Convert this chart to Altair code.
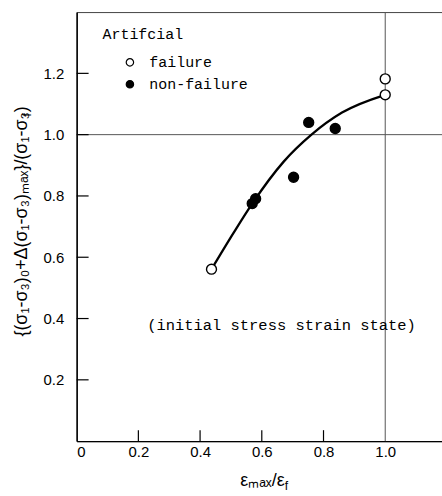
import altair as alt
import pandas as pd

# ---- data ----
fail_x = [0.437, 1.0, 1.0]
fail_y = [0.561, 1.13, 1.182]
nonfail_x = [0.569, 0.58, 0.703, 0.752, 0.838]
nonfail_y = [0.775, 0.791, 0.861, 1.04, 1.02]
curve_x = [0.437, 0.51, 0.569, 0.671, 0.761, 0.86, 1.0]
curve_y = [0.561, 0.682, 0.775, 0.912, 1.0, 1.072, 1.13]
x_label_vals = [0, 0.2, 0.4, 0.6, 0.8, 1.0]
y_label_vals = [0.2, 0.4, 0.6, 0.8, 1.0, 1.2]
x_inner_ticks = [0.2, 0.4, 0.6, 0.8]
y_inner_ticks = [0.2, 0.4, 0.6, 0.8, 1.0, 1.2]
ref_x = [1.0]
ref_y = [1.0]
status_names = ["failure", "non-failure"]
legend_title = "Artifcial"
note_text = ["(initial stress strain state)"]
note_x = [0.229]
note_y = [0.38]
y_title_main = "{(σ₁-σ₃)₀+Δ(σ₁-σ₃)ₘₐₓ}/(σ₁-σ₃)"
y_title_sub = "f"
x_title_main = "εₘₐₓ/ε"
x_title_sub = "f"

# ---- layout ----
W, H = 367, 431
X_DOMAIN = [0, 1.184]
Y_DOMAIN = [0, 1.4]

points = pd.DataFrame({
    "x": fail_x + nonfail_x,
    "y": fail_y + nonfail_y,
    "status": [status_names[0]] * len(fail_x) + [status_names[1]] * len(nonfail_x),
})
curve = pd.DataFrame({"x": curve_x, "y": curve_y})


def xenc(field="x"):
    return alt.X(
        f"{field}:Q",
        scale=alt.Scale(domain=X_DOMAIN, nice=False, zero=False),
        axis=alt.Axis(
            values=x_label_vals,
            labelExpr="datum.value == 0 ? '0' : format(datum.value, '.1f')",
            title=None,
            labelPadding=3,
        ),
    )


def yenc(field="y"):
    return alt.Y(
        f"{field}:Q",
        scale=alt.Scale(domain=Y_DOMAIN, nice=False, zero=False),
        axis=alt.Axis(values=y_label_vals, format=".1f", title=None, labelPadding=13),
    )


curve_layer = alt.Chart(curve).mark_line(
    color="black", strokeWidth=2.3, interpolate="monotone"
).encode(x=xenc(), y=yenc())

points_layer = alt.Chart(points).mark_point(
    filled=True, shape="circle", size=100, stroke="black", strokeWidth=1.4, opacity=1
).encode(
    x=xenc(),
    y=yenc(),
    fill=alt.Fill(
        "status:N",
        scale=alt.Scale(domain=status_names, range=["white", "black"]),
        legend=alt.Legend(
            title=legend_title,
            orient="none",
            legendX=26,
            legendY=15,
            padding=0,
            titleFont="Liberation Mono",
            titleFontSize=15,
            titleFontWeight="normal",
            titleColor="black",
            titlePadding=13,
            labelFont="Liberation Mono",
            labelFontSize=15,
            labelColor="black",
            symbolType="circle",
            symbolSize=55,
            symbolStrokeColor="black",
            symbolStrokeWidth=1.2,
            symbolOffset=20,
            labelOffset=12,
            rowPadding=6,
        ),
    ),
)

ref_v = alt.Chart(pd.DataFrame({"x": ref_x})).mark_rule(
    color="#555", strokeWidth=1
).encode(x=xenc())
ref_h = alt.Chart(pd.DataFrame({"y": ref_y})).mark_rule(
    color="#555", strokeWidth=1
).encode(y=yenc())

xticks = alt.Chart(pd.DataFrame({"x": x_inner_ticks})).mark_rule(
    color="black", strokeWidth=1.2
).encode(x=xenc(), y=alt.value(H), y2=alt.value(H - 11))
yticks = alt.Chart(pd.DataFrame({"y": y_inner_ticks})).mark_rule(
    color="black", strokeWidth=1.2
).encode(y=yenc(), x=alt.value(0), x2=alt.value(12))

note = alt.Chart(pd.DataFrame({"x": note_x, "y": note_y, "t": note_text})).mark_text(
    font="Liberation Mono", fontSize=15.5, align="left", baseline="middle", color="black"
).encode(x=xenc(), y=yenc(), text="t:N")

ytitle = alt.Chart(pd.DataFrame({"t": [y_title_main]})).mark_text(
    angle=270, align="left", baseline="middle", font="Liberation Sans", fontSize=18, color="black"
).encode(text="t:N", x=alt.value(-55), y=alt.value(326))
ytitle_f = alt.Chart(pd.DataFrame({"t": [y_title_sub]})).mark_text(
    angle=270, align="left", baseline="middle", font="Liberation Sans", fontSize=12, color="black"
).encode(text="t:N", x=alt.value(-50), y=alt.value(105))

xtitle = alt.Chart(pd.DataFrame({"t": [x_title_main]})).mark_text(
    align="right", baseline="middle", font="Liberation Sans", fontSize=18, color="black"
).encode(text="t:N", x=alt.value(209), y=alt.value(471))
xtitle_f = alt.Chart(pd.DataFrame({"t": [x_title_sub]})).mark_text(
    align="left", baseline="middle", font="Liberation Sans", fontSize=12, color="black"
).encode(text="t:N", x=alt.value(209), y=alt.value(476))

chart = alt.layer(
    ref_v, ref_h, xticks, yticks, curve_layer, points_layer, note,
    ytitle, ytitle_f, xtitle, xtitle_f,
).properties(
    width=W,
    height=H,
    autosize=alt.AutoSizeParams(type="none"),
    padding={"left": 77, "top": 11, "right": 0, "bottom": 54},
    background="white",
).configure_view(
    stroke="#444", strokeWidth=1
).configure_axis(
    labelFont="Liberation Sans",
    labelFontSize=15,
    labelColor="black",
    domainColor="black",
    domainWidth=1.5,
    ticks=False,
    grid=False,
)

chart.save("out.html", embed_options={"renderer": "svg", "actions": False})
